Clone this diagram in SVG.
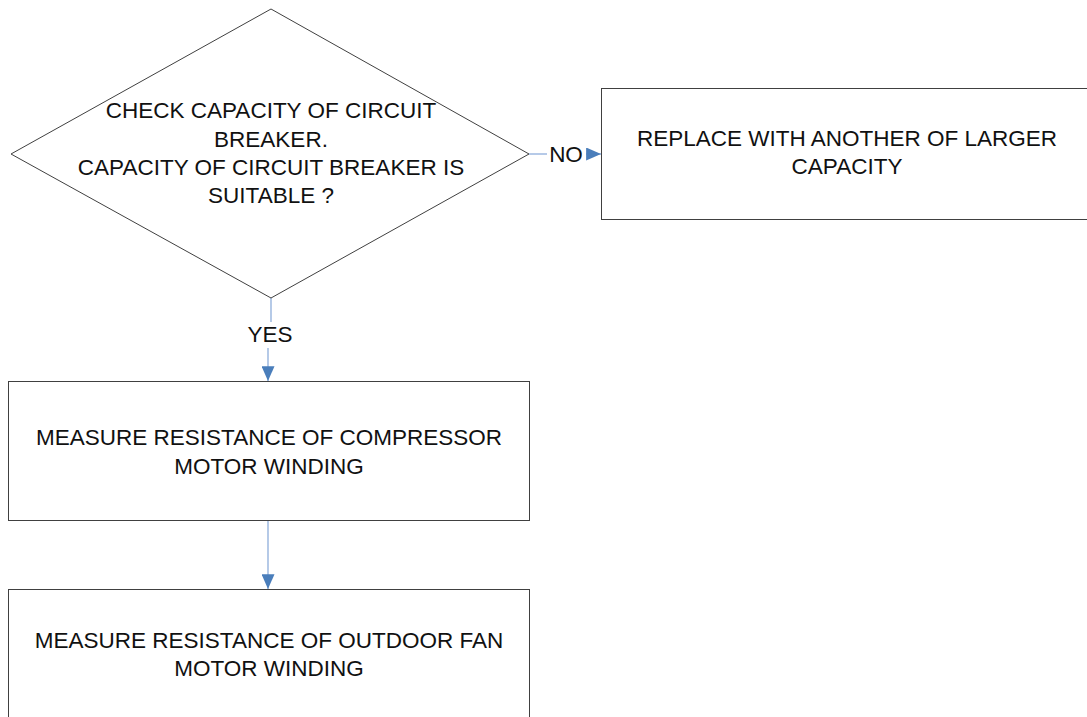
<svg xmlns="http://www.w3.org/2000/svg" width="1087" height="717" viewBox="0 0 1087 717">
<style>
.shape{fill:#fff;stroke:#404040;stroke-width:1}
.t{font-family:"Liberation Sans",Arial,sans-serif;font-size:22.5px;fill:#111;text-anchor:middle}
.c{fill:none;stroke:#8eaedb;stroke-width:1.3}
</style>
<defs>
<marker id="ah" viewBox="0 0 16 14" refX="16" refY="7" markerWidth="15" markerHeight="13" markerUnits="userSpaceOnUse" orient="auto">
<path d="M0,0 L16,7 L0,14 Z" fill="#4a7ebb"/>
</marker>
</defs>
<rect width="1087" height="717" fill="#fff"/>
<g id="connectors">
<line class="c" x1="529" y1="154" x2="547" y2="154"/>
<line class="c" x1="586" y1="154" x2="601" y2="154" marker-end="url(#ah)"/>
<text class="t" x="566" y="162">NO</text>
<line class="c" x1="271" y1="298" x2="271" y2="322"/>
<line class="c" x1="268" y1="348" x2="268" y2="381" marker-end="url(#ah)"/>
<text class="t" x="270" y="342">YES</text>
<line class="c" x1="268" y1="521" x2="268" y2="589" marker-end="url(#ah)"/>
</g>
<g id="decision">
<polygon class="shape" points="271,9 529,154 271,298 11,154"/>
<text class="t" x="271" y="118">CHECK CAPACITY OF CIRCUIT</text>
<text class="t" x="271" y="147">BREAKER.</text>
<text class="t" x="271" y="175">CAPACITY OF CIRCUIT BREAKER IS</text>
<text class="t" x="271" y="203">SUITABLE ?</text>
</g>
<g id="replace">
<rect class="shape" x="601.5" y="88.5" width="500" height="131"/>
<text class="t" x="847" y="146">REPLACE WITH ANOTHER OF LARGER</text>
<text class="t" x="847" y="174">CAPACITY</text>
</g>
<g id="compressor">
<rect class="shape" x="8.5" y="381.5" width="521" height="139"/>
<text class="t" x="269" y="445">MEASURE RESISTANCE OF COMPRESSOR</text>
<text class="t" x="269" y="474">MOTOR WINDING</text>
</g>
<g id="fan">
<rect class="shape" x="8.5" y="589.5" width="521" height="140"/>
<text class="t" x="269" y="648">MEASURE RESISTANCE OF OUTDOOR FAN</text>
<text class="t" x="269" y="676">MOTOR WINDING</text>
</g>
</svg>
